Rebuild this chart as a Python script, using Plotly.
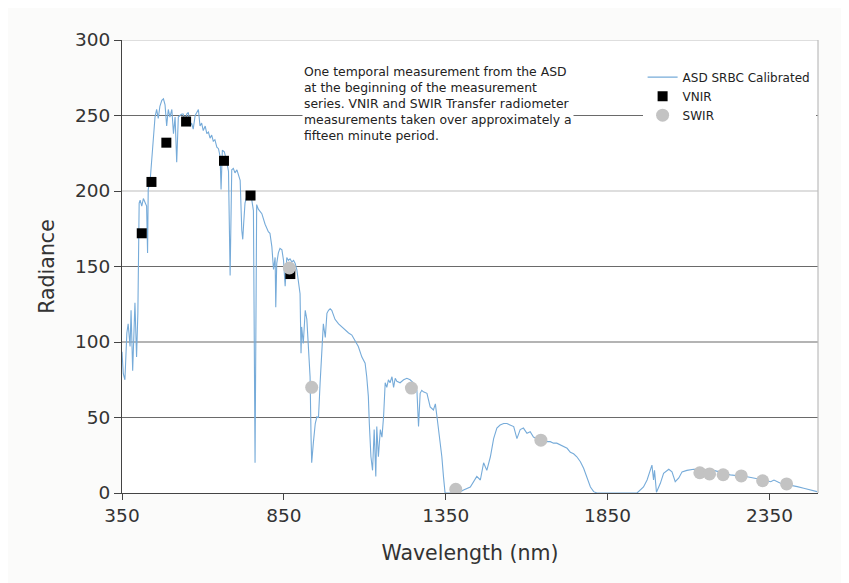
import plotly.graph_objects as go

# ASD SRBC calibrated spectrum
asd_wl = [350, 354, 359, 365, 369, 375, 378, 383, 390, 395, 399, 401, 403, 406, 411, 416, 421, 426, 429, 431,
          437, 442, 447, 452, 457, 462, 467, 473, 478, 483, 488, 493, 498, 504, 509, 514, 519, 524, 529, 535,
          539, 545, 550, 555, 560, 565, 570, 576, 581, 586, 591, 596, 601, 607, 612, 617, 622, 627, 632, 637,
          643, 648, 653, 656, 660, 666, 674, 679, 684, 689, 694, 699, 705, 710, 715, 720, 723, 726, 730, 735,
          740, 746, 751, 756, 761, 766, 771, 782, 792, 802, 807, 813, 818, 823, 825, 828, 833, 838, 844, 849,
          854, 859, 864, 869, 875, 880, 885, 890, 895, 900, 903, 905, 910, 916, 921, 926, 931, 934, 936, 941,
          947, 952, 957, 962, 967, 972, 978, 983, 988, 993, 998, 1008, 1019, 1029, 1039, 1050, 1060, 1070, 1080, 1091,
          1101, 1106, 1111, 1114, 1119, 1124, 1129, 1134, 1137, 1142, 1148, 1153, 1158, 1163, 1168, 1173, 1178, 1184, 1189, 1194,
          1199, 1209, 1220, 1230, 1240, 1250, 1261, 1266, 1271, 1276, 1281, 1292, 1302, 1312, 1318, 1323, 1328, 1333, 1338, 1343,
          1348, 1389, 1405, 1426, 1446, 1457, 1467, 1477, 1488, 1498, 1508, 1518, 1529, 1539, 1549, 1560, 1570, 1580, 1590, 1601,
          1611, 1621, 1632, 1642, 1652, 1663, 1673, 1683, 1693, 1704, 1714, 1725, 1735, 1745, 1755, 1766, 1776, 1786, 1797, 1807,
          1817, 1941, 1951, 1961, 1972, 1982, 1987, 1992, 1995, 2001, 2013, 2023, 2034, 2039, 2049, 2059, 2070, 2080, 2095, 2116,
          2178, 2229, 2281, 2312, 2332, 2354, 2364, 2384, 2415, 2436, 2456, 2477, 2497]
asd_rad = [93.6, 79, 75, 106, 112, 97, 121, 81, 126, 90, 119, 150, 192, 194, 190, 195, 192, 190, 159, 201,
           207, 223, 240, 249, 254, 248, 256, 260, 261, 257, 243, 254, 249, 254, 238, 249, 219, 249, 250, 251,
           251, 245, 251, 252, 243, 245, 241, 250, 252, 254, 243, 245, 240, 243, 238, 239, 235, 237, 233, 234,
           229, 228, 223, 201, 227, 226, 219, 213, 144, 214, 215, 212, 214, 210, 207, 174, 168, 179, 192, 196,
           197, 197, 194, 187, 20, 191, 188, 185, 178, 173, 172, 163, 148, 156, 123, 152, 159, 162, 161, 154,
           137, 156, 154, 155, 153, 154, 152, 148, 141, 132, 92.5, 110, 99, 121, 115, 95, 77, 37, 20, 33,
           46, 50.5, 50, 73, 97, 112, 103, 119, 121, 122, 121, 115, 112, 110, 108, 106, 104.6, 101, 97, 90,
           86, 77, 64, 46, 24, 15, 42, 11, 44, 24, 42, 37, 50.5, 73, 70, 75, 73, 77, 70, 76,
           74, 73, 75, 76, 75, 73, 68, 44, 66, 68, 67, 66, 57, 55, 59, 50.5, 42, 33, 24, 11,
           0, 0, 2, 4, 11, 8.6, 20, 15, 24, 36, 43, 45, 46, 46, 45, 44, 36, 42, 43, 39.5,
           40.6, 37, 36, 35, 35, 34, 34, 33, 33, 32, 30.7, 29.6, 27, 26, 24, 20.7, 16.4, 10.8, 4, 0.9,
           0, 0, 2, 4, 8.6, 15, 18.5, 8.6, 15, 0.5, 6.4, 13, 15, 15.7, 14, 7.5, 10, 14, 15, 15.7,
           15, 12, 10.8, 9.7, 8.6, 7.5, 8.6, 6.4, 5.3, 4.2, 3.1, 2, 0.9]

# VNIR transfer radiometer
vnir_wl = [411, 441, 487, 548, 665, 747, 870]
vnir_rad = [172, 206, 232, 246, 220, 197, 145]

# SWIR transfer radiometer
swir_wl = [867, 936, 1244, 1381, 1644, 2135, 2165, 2207, 2263, 2329, 2403]
swir_rad = [149, 70, 69.5, 2.5, 35, 13.4, 12.6, 12.1, 11.3, 8.1, 6.0]

x_ticks = [350, 850, 1350, 1850, 2350]
y_ticks = [0, 50, 100, 150, 200, 250, 300]
grid_vals = [50, 100, 150, 200, 250, 300]
grid_cols = ["#6a6a6a", "#6a6a6a", "#6a6a6a", "#bdbdbd", "#6a6a6a", "#bdbdbd"]

note = ("One temporal measurement from the ASD<br>at the beginning of the measurement<br>"
        "series. VNIR and SWIR Transfer radiometer<br>measurements taken over approximately a<br>"
        "fifteen minute period.")

FONT = "DejaVu Sans, Verdana, sans-serif"

fig = go.Figure()
fig.add_trace(go.Scatter(x=asd_wl, y=asd_rad, mode="lines", name="ASD SRBC Calibrated",
                         line=dict(color="#76abd9", width=1.1)))
fig.add_trace(go.Scatter(x=vnir_wl, y=vnir_rad, mode="markers", name="VNIR",
                         marker=dict(symbol="square", size=10, color="black")))
fig.add_trace(go.Scatter(x=swir_wl, y=swir_rad, mode="markers", name="SWIR",
                         marker=dict(symbol="circle", size=13, color="#c3c3c3")))

shapes = []
for v, c in zip(grid_vals, grid_cols):
    shapes.append(dict(type="line", xref="paper", x0=0, x1=1, yref="y", y0=v, y1=v,
                       line=dict(color=c, width=1.2), layer="below"))
shapes.append(dict(type="line", xref="paper", x0=1, x1=1, yref="paper", y0=0, y1=1,
                   line=dict(color="#bdbdbd", width=1.2), layer="below"))

fig.update_layout(
    width=841, height=575,
    margin=dict(l=114, r=31, t=32, b=90),
    paper_bgcolor="#fbfbfa", plot_bgcolor="white",
    font=dict(family=FONT, color="#222"),
    shapes=shapes,
    showlegend=True,
    legend=dict(x=0.748, y=0.95, xanchor="left", yanchor="top", bgcolor="white",
                font=dict(size=12, family=FONT, color="#222"), tracegroupgap=0,
                itemwidth=30),
    annotations=[dict(text=note, xref="paper", yref="paper", x=0.258, y=0.952,
                      xanchor="left", yanchor="top", align="left", showarrow=False,
                      bgcolor="white", font=dict(size=12.4, family=FONT, color="#222"))],
)
fig.update_xaxes(range=[350, 2500], tickvals=x_ticks, ticks="outside", ticklen=6,
                 tickcolor="#444", showline=True, linecolor="#444", linewidth=1.2,
                 showgrid=False, zeroline=False, tickfont=dict(size=18.5, color="#333"),
                 title=dict(text="Wavelength (nm)", font=dict(size=20.5, color="#333"), standoff=20))
fig.update_yaxes(range=[0, 300], tickvals=y_ticks, ticks="outside", ticklen=7,
                 tickcolor="#444", showline=True, linecolor="#444", linewidth=1.2,
                 showgrid=False, zeroline=False, tickfont=dict(size=18.5, color="#333"),
                 title=dict(text="Radiance", font=dict(size=20.5, color="#333"), standoff=14))

fig.write_html("out.html")
